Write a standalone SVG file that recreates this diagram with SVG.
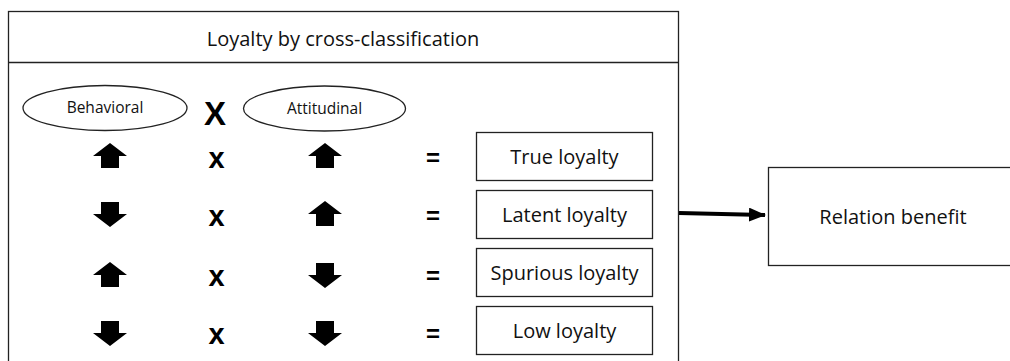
<svg xmlns="http://www.w3.org/2000/svg" width="1010" height="361" viewBox="0 0 1010 361">
<style>
.box{fill:#fff;stroke:#222;stroke-width:1.3}
.t{font-family:"Open Sans","Noto Sans",sans-serif;fill:#111;text-anchor:middle;dominant-baseline:central}
.lbl{font-size:20px}
.ell{font-size:15.5px}
.op{font-family:"Liberation Sans",Arial,sans-serif;font-weight:bold;fill:#000;text-anchor:middle;dominant-baseline:central}
.arr{fill:#000}
</style>
<defs>
<path id="up" d="M0,-13 L17,0 L9,0 L9,12 L-9,12 L-9,0 L-17,0 Z"/>
<path id="down" d="M0,13 L17,0 L9,0 L9,-12 L-9,-12 L-9,0 L-17,0 Z"/>
<marker id="ah" markerWidth="17" markerHeight="14" refX="16" refY="7" orient="auto" markerUnits="userSpaceOnUse"><path d="M0,0 L17,7 L0,14 Z" fill="#000"/></marker>
</defs>
<rect width="1010" height="361" fill="#fff"/>
<g id="frame">
<rect class="box" x="8.5" y="11.5" width="670" height="360"/>
<line x1="8.5" y1="62.5" x2="678.5" y2="62.5" stroke="#222" stroke-width="1.3"/>
<text class="t lbl" x="343" y="38">Loyalty by cross-classification</text>
</g>
<g id="behavioral">
<ellipse class="box" cx="105" cy="108" rx="82" ry="22.5"/>
<text class="t ell" x="105" y="107">Behavioral</text>
</g>
<text class="op" x="215" y="113" font-size="33">X</text>
<g id="attitudinal">
<ellipse class="box" cx="324.5" cy="108.5" rx="81" ry="22.5"/>
<text class="t ell" x="324.5" y="107.5">Attitudinal</text>
</g>
<g id="rows">
<use href="#up" class="arr" x="110" y="156"/>
<text class="op" x="216.5" y="158" font-size="29">x</text>
<use href="#up" class="arr" x="325" y="156"/>
<text class="op" x="433" y="157" font-size="24">=</text>
<use href="#down" class="arr" x="110" y="214"/>
<text class="op" x="216.5" y="216" font-size="29">x</text>
<use href="#up" class="arr" x="325" y="214"/>
<text class="op" x="433" y="215" font-size="24">=</text>
<use href="#up" class="arr" x="110" y="275"/>
<text class="op" x="216.5" y="276" font-size="29">x</text>
<use href="#down" class="arr" x="325" y="275"/>
<text class="op" x="433" y="275" font-size="24">=</text>
<use href="#down" class="arr" x="110" y="333"/>
<text class="op" x="216.5" y="334" font-size="29">x</text>
<use href="#down" class="arr" x="325" y="333"/>
<text class="op" x="433" y="333" font-size="24">=</text>
</g>
<g id="true-loyalty">
<rect class="box" x="476.5" y="132.5" width="176" height="48"/>
<text class="t lbl" x="564.5" y="156">True loyalty</text>
</g>
<g id="latent-loyalty">
<rect class="box" x="476.5" y="190.5" width="176" height="48"/>
<text class="t lbl" x="564.5" y="214">Latent loyalty</text>
</g>
<g id="spurious-loyalty">
<rect class="box" x="476.5" y="248.5" width="176" height="48"/>
<text class="t lbl" x="564.5" y="272">Spurious loyalty</text>
</g>
<g id="low-loyalty">
<rect class="box" x="476.5" y="306.5" width="176" height="48"/>
<text class="t lbl" x="564.5" y="330">Low loyalty</text>
</g>
<g id="relation-benefit">
<rect class="box" x="768.5" y="167.5" width="245" height="98"/>
<text class="t lbl" x="893" y="216">Relation benefit</text>
</g>
<g id="connectors">
<line x1="679" y1="213" x2="765" y2="215" stroke="#000" stroke-width="4" marker-end="url(#ah)"/>
</g>
</svg>
